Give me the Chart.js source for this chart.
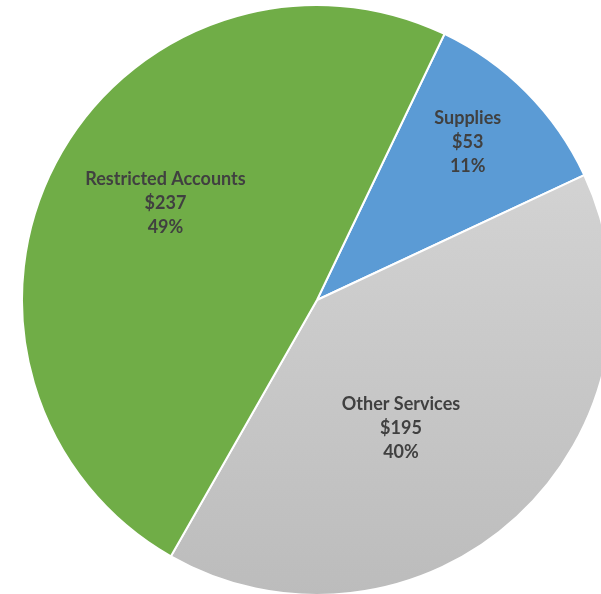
<!DOCTYPE html>
<html lang="en">

<head>
    <meta charset="UTF-8">
    <title>Budget pie</title>
    <script src="https://cdn.jsdelivr.net/npm/chart.js"></script>
    <style>
        html, body { margin: 0; padding: 0; background: #fff; overflow: hidden; width: 601px; height: 594px; }
        #pieChart { position: absolute; left: 21px; top: 4px; }
    </style>
</head>

<body>
    <canvas id="pieChart" width="592" height="592"></canvas>

    <script>
        // categories and values (clockwise, starting from the top-right)
        const categories = ["Supplies", "Other Services", "Restricted Accounts"];
        const amounts = [53, 195, 237];
        const percentLabels = ["11%", "40%", "49%"];

        // label placement: fraction of radius and angle tweak (degrees)
        const labelRadius = [0.74, 0.52, 0.61];
        const labelAngleShift = [-1.6, 9.5, 5];

        const sliceLabels = {
            id: 'sliceLabels',
            afterDatasetsDraw(chart) {
                const ctx = chart.ctx;
                const meta = chart.getDatasetMeta(0);
                ctx.save();
                ctx.font = "bold 18px Lato";
                ctx.fillStyle = "#404040";
                ctx.textAlign = "center";
                ctx.textBaseline = "middle";
                meta.data.forEach((arc, i) => {
                    const mid = (arc.startAngle + arc.endAngle) / 2 + labelAngleShift[i] * Math.PI / 180;
                    const r = arc.outerRadius * labelRadius[i];
                    const x = arc.x + Math.cos(mid) * r;
                    const y = arc.y + Math.sin(mid) * r;
                    const lines = [categories[i], "$" + amounts[i], percentLabels[i]];
                    lines.forEach((t, k) => ctx.fillText(t, x, y + (k - 1) * 24.2));
                });
                ctx.restore();
            }
        };

        const ctx = document.getElementById('pieChart').getContext('2d');
        new Chart(ctx, {
            type: 'pie',
            data: {
                labels: categories,
                datasets: [{
                    data: amounts,
                    backgroundColor: function (c) {
                        if (c.dataIndex !== 1) return ["#5B9BD5", null, "#70AD47"][c.dataIndex];
                        const area = c.chart.chartArea;
                        if (!area) return "#CCCCCC";
                        const g = c.chart.ctx.createLinearGradient(0, area.top, 0, area.bottom);
                        g.addColorStop(0, "#DCDCDC");
                        g.addColorStop(1, "#BCBCBC");
                        return g;
                    },
                    borderColor: "#FFFFFF",
                    borderWidth: 2
                }]
            },
            options: {
                responsive: false,
                animation: false,
                rotation: 25.6,
                layout: { padding: 0 },
                plugins: {
                    legend: { display: false },
                    tooltip: { enabled: false }
                }
            },
            plugins: [sliceLabels]
        });
    </script>
</body>

</html>
